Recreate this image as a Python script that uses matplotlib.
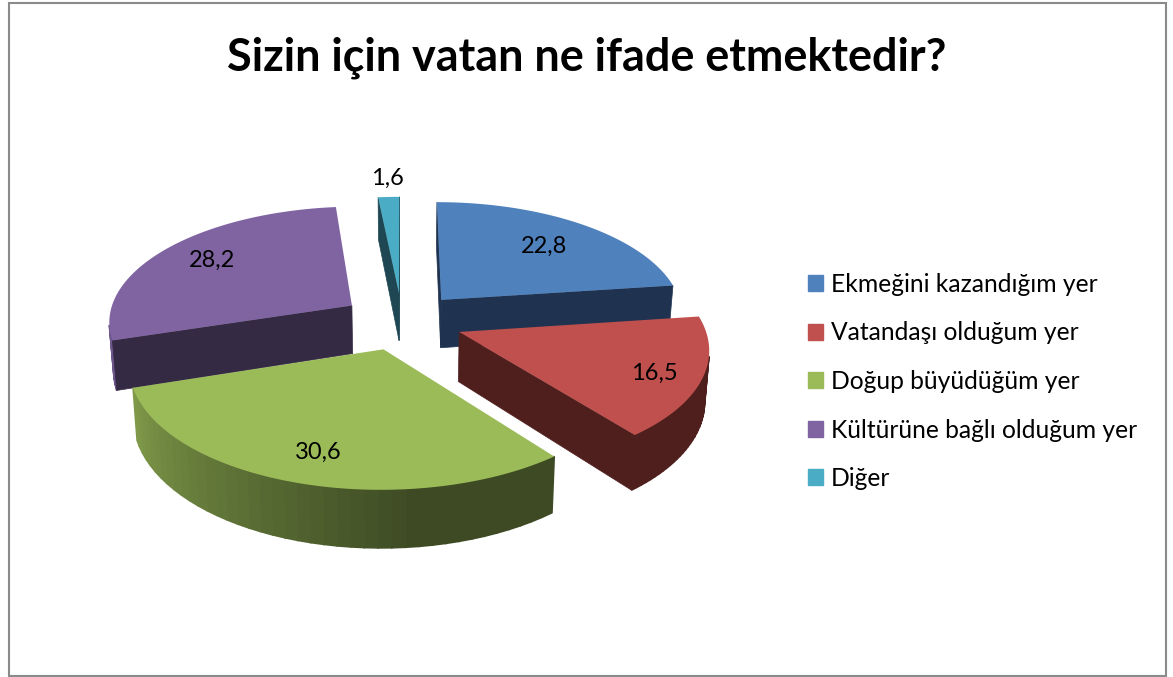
import matplotlib
matplotlib.use("Agg")
from matplotlib import pyplot as plt
from matplotlib.patches import Patch, Rectangle
import numpy as np

# Pie: Sizin için vatan ne ifade etmektedir?
labels = ["Ekmeğini kazandığım yer", "Vatandaşı olduğum yer", "Doğup büyüdüğüm yer",
          "Kültürüne bağlı olduğum yer", "Diğer"]
values = [22.8, 16.5, 30.6, 28.2, 1.6]
value_text = ["22,8", "16,5", "30,6", "28,2", "1,6"]

colours = ["#4F81BD", "#C0504D", "#9BBB59", "#8064A2", "#4BACC6"]
dark_colours = ["#1F3350", "#4F1F1E", "#3D4A24", "#352A43", "#1F4753"]
text_pos = [(544, 246), (654.5, 373), (318, 452), (212, 260), (387.5, 178)]
draw_order = [4, 0, 3, 1, 2]

# fake 3d settings, worked out from the picture
cx, cy = 402, 321
rx, ry = 244, 115
persp = 0.126
thick = 49
explode = 0.25


def project(X, Z, bottom=False):
    d = 1 - persp * Z
    x = cx + rx * X / d
    y = cy + ry * Z / d
    if bottom:
        # verticals lean in a little towards the bottom of the pie
        x = cx + (x - cx) * 0.985
        y = y + thick / d
    return x, y


def face_visible(pts):
    # shoelace, y axis points down so front faces come out one way round
    xs, ys = np.array(pts).T
    return np.sum(xs * np.roll(ys, -1) - np.roll(xs, -1) * ys) > 0


def mix(c1, c2, t):
    a = np.array(matplotlib.colors.to_rgb(c1))
    b = np.array(matplotlib.colors.to_rgb(c2))
    return tuple(a + (b - a) * t)


plt.rcParams["font.family"] = ["Lato", "DejaVu Sans"]
fig = plt.figure(figsize=(11.73, 6.77), dpi=100)
ax = fig.add_axes([0, 0, 1, 1])
ax.set_xlim(0, 1173)
ax.set_ylim(677, 0)
ax.axis("off")

ax.add_patch(Rectangle((8.5, 2.5), 1157, 673.5, fill=False, edgecolor="#8A8A8A", linewidth=1.5))

fracs = np.array(values) / sum(values) * 360
starts = np.concatenate([[0], np.cumsum(fracs)[:-1]])

for order, i in enumerate(draw_order):
    z = 2 + order
    a0 = starts[i]
    a1 = a0 + fracs[i]
    mid = np.radians((a0 + a1) / 2)
    ox, oz = explode * np.sin(mid), -explode * np.cos(mid)
    th = np.radians(np.linspace(a0, a1, 121))
    X = ox + np.sin(th)
    Z = oz - np.cos(th)

    # outer wall, lighter towards the left side of the pie
    for j in range(0, len(th) - 3, 3):
        pts = [project(X[j + 3], Z[j + 3]), project(X[j], Z[j]),
               project(X[j], Z[j], True), project(X[j + 3], Z[j + 3], True)]
        if not face_visible(pts):
            continue
        deg = np.degrees(th[j])
        t = np.clip((deg - 172) / (255 - 172), 0, 1)
        ax.fill(*zip(*pts), color=mix(dark_colours[i], colours[i], t * 0.75), linewidth=1.2, zorder=z)

    # the two cut faces
    for k in [0, -1]:
        pts = [project(ox, oz), project(X[k], Z[k]), project(X[k], Z[k], True), project(ox, oz, True)]
        if k == 0:
            pts = pts[::-1]
        if face_visible(pts):
            ax.fill(*zip(*pts), color=dark_colours[i], linewidth=0.5, zorder=z)

    top = [project(ox, oz)] + [project(a, b) for a, b in zip(X, Z)]
    ax.fill(*zip(*top), color=colours[i], linewidth=0, zorder=z)

for txt, (x, y) in zip(value_text, text_pos):
    ax.text(x, y, txt, fontsize=17, ha="center", va="center", color="black", zorder=20)

ax.text(587, 58, "Sizin için vatan ne ifade etmektedir?", fontsize=32.4, fontweight="bold",
        ha="center", va="center", color="black")

handles = [Patch(color=c, label=l) for c, l in zip(colours, labels)]
ax.legend(handles=handles, loc="upper left", bbox_to_anchor=(798, 263), bbox_transform=ax.transData,
          frameon=False, fontsize=17.7, handlelength=0.62, handleheight=0.62, handletextpad=0.32,
          labelspacing=1.04, borderpad=0.4, borderaxespad=0)

fig.savefig("out.png", dpi=100)
